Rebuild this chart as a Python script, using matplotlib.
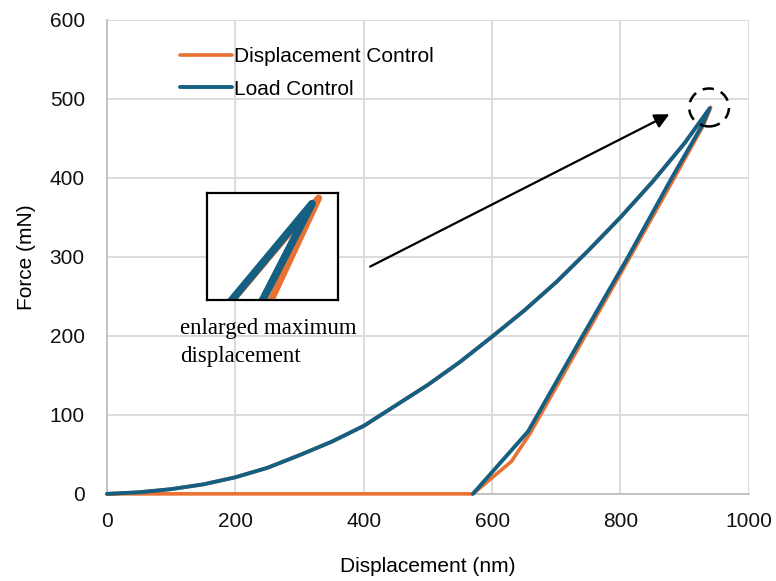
import numpy as np
import matplotlib.pyplot as plt
from matplotlib.patches import Ellipse

plt.rcParams['font.family'] = ['Liberation Sans', 'DejaVu Sans']

# loading branch (same for both controls)
load_x = [0, 50, 100, 150, 200, 250, 300, 350, 400, 450, 500, 550, 600, 650, 700, 750, 800, 850, 900]
load_y = [0, 2, 6, 12, 21, 33, 49, 66, 86, 112, 138, 167, 199, 232, 268, 308, 350, 395, 444]

# displacement control: peak, unloading, then zero back to origin
disp_x = load_x + [940.5, 929.5, 884, 815, 745, 658, 630, 570, 0]
disp_y = load_y + [489.2, 467, 400, 300, 200, 75, 41, 0, 0]

# load control: peak and unloading
lc_x = load_x + [939, 927, 880, 812, 741, 656, 570]
lc_y = load_y + [488, 466, 400, 300, 200, 79, 0]

orange = '#E97132'
blue = '#156082'
grid_c = '#D9D9D9'

fig = plt.figure(figsize=(7.76, 5.81), dpi=100)
ax = fig.add_axes([0.138, 0.150, 0.827, 0.816])

ax.plot(disp_x, disp_y, color=orange, lw=2.6, label='Displacement Control',
        solid_capstyle='round', zorder=3, clip_on=False)
ax.plot(lc_x, lc_y, color=blue, lw=2.8, label='Load Control',
        solid_capstyle='round', zorder=3, clip_on=False)

ax.set_xlim(0, 1000)
ax.set_ylim(0, 600)
ax.set_xticks(np.arange(0, 1001, 200))
ax.set_yticks(np.arange(0, 601, 100))
ax.grid(True, color=grid_c, lw=1.3)
ax.set_axisbelow(True)
for s in ['top', 'right']:
    ax.spines[s].set_visible(False)
for s in ['left', 'bottom']:
    ax.spines[s].set_color('#BFBFBF')
    ax.spines[s].set_linewidth(1.3)
ax.tick_params(length=0, labelsize=15, colors='#111111')
ax.tick_params(axis='x', pad=13)
ax.tick_params(axis='y', pad=16)
ax.set_xlabel('Displacement (nm)', fontsize=15, labelpad=19)
ax.set_ylabel('Force (mN)', fontsize=15, labelpad=10)

ax.legend(loc='upper left', bbox_to_anchor=(0.1, 0.96), frameon=False, fontsize=15,
          handlelength=2.5, handletextpad=0.1, labelspacing=0.65, borderaxespad=0)

# arrow and dashed circle marking the peak
ax.annotate('', xy=(880, 482), xytext=(406, 286),
            arrowprops=dict(arrowstyle='-|>', color='black', lw=1.6, mutation_scale=22))
ax.add_patch(Ellipse((938, 489), 62, 48, fill=False, ls=(0, (4.5, 3)), lw=1.8, color='black',
                     clip_on=False, zorder=4))

ax.text(114, 223, 'enlarged maximum\ndisplacement', family=['Liberation Serif', 'DejaVu Serif'],
        fontsize=16.5, va='top', ha='left', linespacing=1.45)

# inset: zoom on the peak
ins = fig.add_axes([0.267, 0.484, 0.169, 0.184])
ins.plot(disp_x, disp_y, color=orange, lw=5, solid_capstyle='round')
ins.plot(lc_x, lc_y, color=blue, lw=5.5, solid_capstyle='round')
ins.set_xlim(915, 945)
ins.set_ylim(467.3, 490.3)
ins.set_xticks([])
ins.set_yticks([])
for s in ins.spines.values():
    s.set_linewidth(1.6)
    s.set_color('black')

fig.savefig('out.png', dpi=100)
